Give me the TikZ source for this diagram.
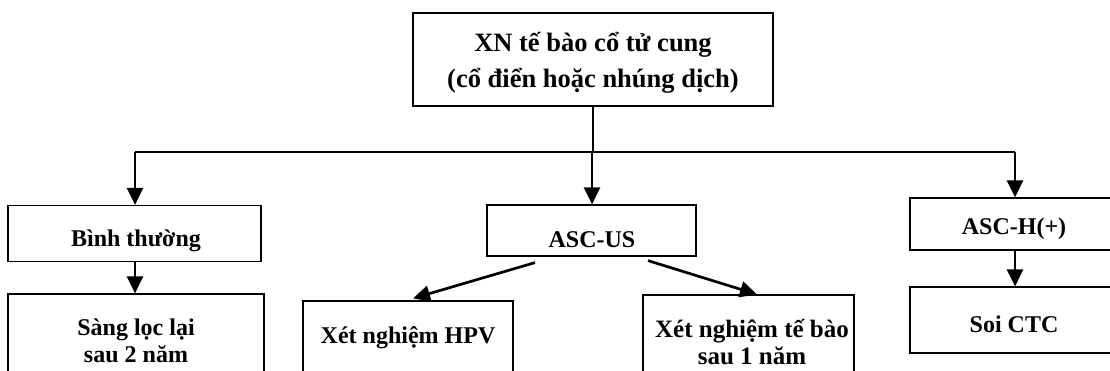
\documentclass[tikz,border=0pt]{standalone}
\usepackage{fontspec}
\setmainfont{Liberation Serif}
\usetikzlibrary{arrows.meta}
\begin{document}
\begin{tikzpicture}[x=1pt,y=-1pt,
  box/.style={draw,line width=1.2pt,rectangle,inner sep=0pt},
  lbl/.style={inner sep=0pt,align=center,font=\fontsize{24}{27}\selectfont\bfseries},
  thinline/.style={line width=1.2pt},
  arr/.style={line width=2.7pt,-{Triangle[length=17pt,width=16pt]}}]
\useasboundingbox (0,0) rectangle (1110,370);
\clip (0,0) rectangle (1110,370);
% boxes
\node[box, minimum width=360pt, minimum height=93pt] (top) at (593,59.5) {};
\node[box, minimum width=253pt, minimum height=56pt] (binh) at (134.5,233.5) {};
\node[box, minimum width=256pt, minimum height=94pt] (sang) at (136,341) {};
\node[box, minimum width=209pt, minimum height=51pt] (ascus) at (591.5,230.5) {};
\node[box, minimum width=210pt, minimum height=78pt] (hpv) at (408,340) {};
\node[box, minimum width=211pt, minimum height=94pt] (tebao) at (748.5,342) {};
\node[box, minimum width=208pt, minimum height=52pt] (asch) at (1014,224) {};
\node[box, minimum width=208pt, minimum height=66pt] (soi) at (1014,320) {};
% texts
\node[lbl, font=\fontsize{26.5}{36}\selectfont\bfseries] (toptxt) at (593,63) {XN tế bào cổ tử cung\\(cổ điển hoặc nhúng dịch)};
\node[lbl] (binhtxt) at (136,240.5) {Bình thường};
\node[lbl] (sangtxt) at (136,341) {Sàng lọc lại\\sau 2 năm};
\node[lbl] (ascustxt) at (592,239.5) {ASC-US};
\node[lbl] (hpvtxt) at (408,338) {Xét nghiệm HPV};
\node[lbl, font=\fontsize{25}{27}\selectfont\bfseries] (tebaotxt) at (752,342.5) {Xét nghiệm tế bào\\sau 1 năm};
\node[lbl] (aschtxt) at (1014,228.5) {ASC-H(+)};
\node[lbl] (soitxt) at (1014,324.5) {Soi CTC};
% connectors
\coordinate (j) at (593,152);
\coordinate (hl) at (135,152);
\coordinate (hm) at (592,152);
\coordinate (hr) at (1015,152);
\draw[thinline] (top.south) -- (j);
\draw[thinline] (hl) -- (hr);
\draw[arr] (hl) -- (binh.north -| hl);
\draw[arr] (hm) -- (ascus.north -| hm);
\draw[arr] (hr) -- (asch.north -| hr);
\draw[arr] (binh.south -| hl) -- (sang.north -| hl);
\draw[arr] (asch.south -| hr) -- (soi.north -| hr);
\draw[arr] ([xshift=-56.5pt,yshift=-6pt]ascus.south) -- ([xshift=5pt,yshift=2pt]hpv.north);
\draw[arr] ([xshift=56.5pt,yshift=-4pt]ascus.south) -- ([xshift=8.5pt]tebao.north);
\end{tikzpicture}
\end{document}
